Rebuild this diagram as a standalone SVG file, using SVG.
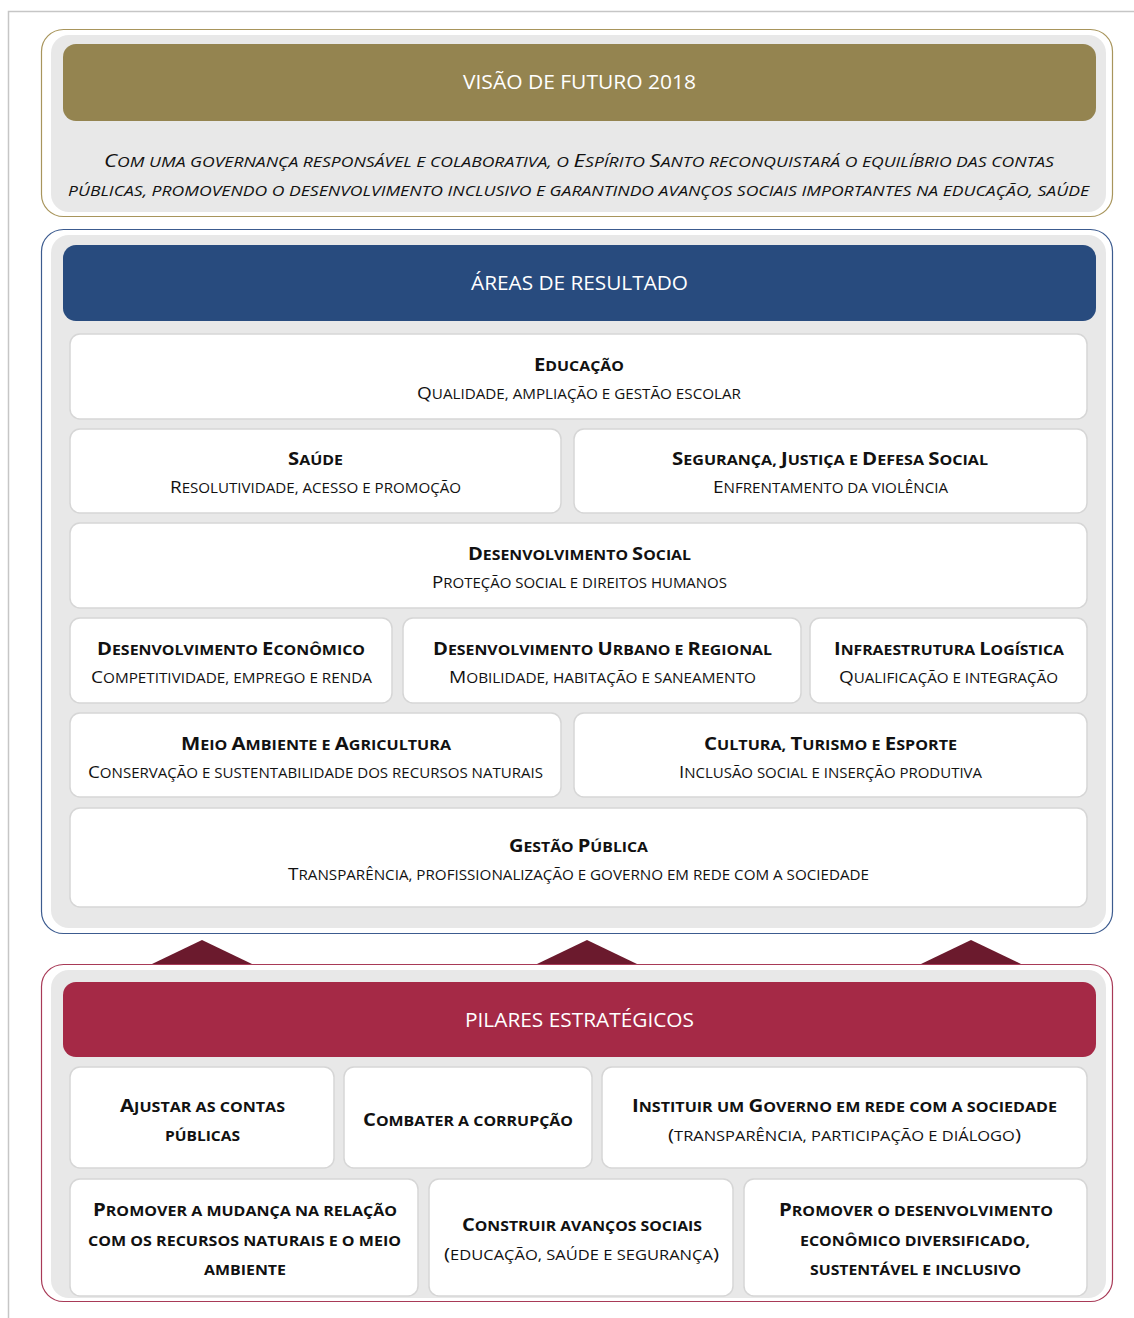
<svg xmlns="http://www.w3.org/2000/svg" width="1134" height="1318" viewBox="0 0 1134 1318">
<style>
.frame{fill:none;stroke:#c6c6c6;stroke-width:1.5}
.panel{fill:#e8e8e8}
.card{fill:#fff;stroke:#d6d6d6;stroke-width:1.5}
.hd{font-family:"Open Sans","Noto Sans",sans-serif;font-size:20px;fill:#fff;text-anchor:middle}
.t{font-family:"Open Sans","Noto Sans",sans-serif;text-transform:uppercase;font-weight:700;font-size:14.2px;fill:#111;text-anchor:middle}
.t .C{font-size:18px}
.s{font-family:"Open Sans","Noto Sans",sans-serif;text-transform:uppercase;font-weight:400;font-size:13.6px;fill:#111;text-anchor:middle}
.s .C{font-size:17px}
.it{font-family:"Open Sans","Noto Sans",sans-serif;text-transform:uppercase;font-style:italic;font-size:15px;fill:#111;text-anchor:middle}
.it .C{font-size:19px}
.tri{fill:#6b1a2d}
</style>
<path class="frame" d="M8.5,1318 V11.5 H1134"/>

<g id="visao">
<rect x="41.5" y="29.5" width="1071" height="187" rx="22" fill="#fff" stroke="#a8955c" stroke-width="1.2"/>
<rect class="panel" x="51" y="35" width="1055" height="177" rx="18"/>
<rect x="63" y="44" width="1033" height="77" rx="13" fill="#948450"/>
<text class="hd" x="579.5" y="89" textLength="233" lengthAdjust="spacingAndGlyphs">VISÃO DE FUTURO 2018</text>
<text class="it" x="579" y="167" textLength="950" lengthAdjust="spacingAndGlyphs"><tspan class="C">C</tspan>om uma governança responsável e colaborativa, o <tspan class="C">E</tspan>spírito <tspan class="C">S</tspan>anto reconquistará o equilíbrio das contas</text>
<text class="it" x="578.5" y="196" textLength="1021" lengthAdjust="spacingAndGlyphs">públicas, promovendo o desenvolvimento inclusivo e garantindo avanços sociais importantes na educação, saúde</text>
</g>

<g id="areas">
<rect x="41.5" y="229.5" width="1071" height="704" rx="22" fill="#fff" stroke="#3c5b8f" stroke-width="1.2"/>
<rect class="panel" x="51" y="235" width="1055" height="693" rx="18"/>
<rect x="63" y="245" width="1033" height="76" rx="13" fill="#284b7e"/>
<text class="hd" x="579.5" y="290" textLength="217" lengthAdjust="spacingAndGlyphs">ÁREAS DE RESULTADO</text>
</g>

<g id="educacao">
<rect class="card" x="70" y="334" width="1017" height="85" rx="10"/>
<text class="t" x="579" y="371" textLength="90" lengthAdjust="spacingAndGlyphs"><tspan class="C">E</tspan>ducação</text>
<text class="s" x="579" y="399" textLength="324" lengthAdjust="spacingAndGlyphs"><tspan class="C">Q</tspan>ualidade, ampliação e gestão escolar</text>
</g>
<g id="saude">
<rect class="card" x="70" y="429" width="491" height="84" rx="10"/>
<text class="t" x="315.5" y="465" textLength="55" lengthAdjust="spacingAndGlyphs"><tspan class="C">S</tspan>aúde</text>
<text class="s" x="315.5" y="493" textLength="291" lengthAdjust="spacingAndGlyphs"><tspan class="C">R</tspan>esolutividade, acesso e promoção</text>
</g>
<g id="seguranca">
<rect class="card" x="574" y="429" width="513" height="84" rx="10"/>
<text class="t" x="830" y="465" textLength="316" lengthAdjust="spacingAndGlyphs"><tspan class="C">S</tspan>egurança, <tspan class="C">J</tspan>ustiça e <tspan class="C">D</tspan>efesa <tspan class="C">S</tspan>ocial</text>
<text class="s" x="830.5" y="493" textLength="235" lengthAdjust="spacingAndGlyphs"><tspan class="C">E</tspan>nfrentamento da violência</text>
</g>
<g id="desenvolvimento-social">
<rect class="card" x="70" y="523" width="1017" height="85" rx="10"/>
<text class="t" x="579.5" y="560" textLength="223" lengthAdjust="spacingAndGlyphs"><tspan class="C">D</tspan>esenvolvimento <tspan class="C">S</tspan>ocial</text>
<text class="s" x="579.5" y="588" textLength="295" lengthAdjust="spacingAndGlyphs"><tspan class="C">P</tspan>roteção social e direitos humanos</text>
</g>
<g id="desenvolvimento-economico">
<rect class="card" x="70" y="618" width="322" height="85" rx="10"/>
<text class="t" x="231" y="655" textLength="268" lengthAdjust="spacingAndGlyphs"><tspan class="C">D</tspan>esenvolvimento <tspan class="C">E</tspan>conômico</text>
<text class="s" x="231.5" y="683" textLength="281" lengthAdjust="spacingAndGlyphs"><tspan class="C">C</tspan>ompetitividade, emprego e renda</text>
</g>
<g id="desenvolvimento-urbano">
<rect class="card" x="403" y="618" width="398" height="85" rx="10"/>
<text class="t" x="602.5" y="655" textLength="339" lengthAdjust="spacingAndGlyphs"><tspan class="C">D</tspan>esenvolvimento <tspan class="C">U</tspan>rbano e <tspan class="C">R</tspan>egional</text>
<text class="s" x="602.5" y="683" textLength="307" lengthAdjust="spacingAndGlyphs"><tspan class="C">M</tspan>obilidade, habitação e saneamento</text>
</g>
<g id="infraestrutura">
<rect class="card" x="810" y="618" width="277" height="85" rx="10"/>
<text class="t" x="949" y="655" textLength="230" lengthAdjust="spacingAndGlyphs"><tspan class="C">I</tspan>nfraestrutura <tspan class="C">L</tspan>ogística</text>
<text class="s" x="948.5" y="683" textLength="219" lengthAdjust="spacingAndGlyphs"><tspan class="C">Q</tspan>ualificação e integração</text>
</g>
<g id="meio-ambiente">
<rect class="card" x="70" y="713" width="491" height="84" rx="10"/>
<text class="t" x="316" y="750" textLength="270" lengthAdjust="spacingAndGlyphs"><tspan class="C">M</tspan>eio <tspan class="C">A</tspan>mbiente e <tspan class="C">A</tspan>gricultura</text>
<text class="s" x="315.5" y="778" textLength="455" lengthAdjust="spacingAndGlyphs"><tspan class="C">C</tspan>onservação e sustentabilidade dos recursos naturais</text>
</g>
<g id="cultura">
<rect class="card" x="574" y="713" width="513" height="84" rx="10"/>
<text class="t" x="830.5" y="750" textLength="253" lengthAdjust="spacingAndGlyphs"><tspan class="C">C</tspan>ultura, <tspan class="C">T</tspan>urismo e <tspan class="C">E</tspan>sporte</text>
<text class="s" x="830.5" y="778" textLength="303" lengthAdjust="spacingAndGlyphs"><tspan class="C">I</tspan>nclusão social e inserção produtiva</text>
</g>
<g id="gestao-publica">
<rect class="card" x="70" y="808" width="1017" height="99" rx="10"/>
<text class="t" x="578.5" y="852" textLength="139" lengthAdjust="spacingAndGlyphs"><tspan class="C">G</tspan>estão <tspan class="C">P</tspan>ública</text>
<text class="s" x="578.5" y="880" textLength="581" lengthAdjust="spacingAndGlyphs"><tspan class="C">T</tspan>ransparência, profissionalização e governo em rede com a sociedade</text>
</g>

<g id="connectors">
<polygon class="tri" points="152,964 202,940 252,964"/>
<polygon class="tri" points="537,964 587,940 637,964"/>
<polygon class="tri" points="921,964 971,940 1021,964"/>
</g>

<g id="pilares">
<rect x="41.5" y="964.5" width="1071" height="337" rx="22" fill="#fff" stroke="#a83a57" stroke-width="1.2"/>
<rect class="panel" x="51" y="970" width="1055" height="328" rx="18"/>
<rect x="63" y="982" width="1033" height="75" rx="13" fill="#a52946"/>
<text class="hd" x="579.5" y="1027" textLength="229" lengthAdjust="spacingAndGlyphs">PILARES ESTRATÉGICOS</text>
</g>

<g id="ajustar">
<rect class="card" x="70" y="1067" width="264" height="101" rx="10"/>
<text class="t" x="202.5" y="1112" textLength="165" lengthAdjust="spacingAndGlyphs"><tspan class="C">A</tspan>justar as contas</text>
<text class="t" x="202.5" y="1141" textLength="75" lengthAdjust="spacingAndGlyphs">públicas</text>
</g>
<g id="combater">
<rect class="card" x="344" y="1067" width="248" height="101" rx="10"/>
<text class="t" x="468" y="1126" textLength="210" lengthAdjust="spacingAndGlyphs"><tspan class="C">C</tspan>ombater a corrupção</text>
</g>
<g id="instituir">
<rect class="card" x="602" y="1067" width="485" height="101" rx="10"/>
<text class="t" x="844.5" y="1112" textLength="425" lengthAdjust="spacingAndGlyphs"><tspan class="C">I</tspan>nstituir um <tspan class="C">G</tspan>overno em rede com a sociedade</text>
<text class="s" x="844.5" y="1141" textLength="353" lengthAdjust="spacingAndGlyphs"><tspan class="C">(</tspan>transparência, participação e diálogo<tspan class="C">)</tspan></text>
</g>
<g id="promover-mudanca">
<rect class="card" x="70" y="1179" width="348" height="117" rx="10"/>
<text class="t" x="245" y="1216" textLength="304" lengthAdjust="spacingAndGlyphs"><tspan class="C">P</tspan>romover a mudança na relação</text>
<text class="t" x="244.5" y="1246" textLength="313" lengthAdjust="spacingAndGlyphs">com os recursos naturais e o meio</text>
<text class="t" x="245" y="1275" textLength="82" lengthAdjust="spacingAndGlyphs">ambiente</text>
</g>
<g id="construir">
<rect class="card" x="429" y="1179" width="304" height="117" rx="10"/>
<text class="t" x="582" y="1231" textLength="240" lengthAdjust="spacingAndGlyphs"><tspan class="C">C</tspan>onstruir avanços sociais</text>
<text class="s" x="581.5" y="1260" textLength="275" lengthAdjust="spacingAndGlyphs"><tspan class="C">(</tspan>educação, saúde e segurança<tspan class="C">)</tspan></text>
</g>
<g id="promover-desenvolvimento">
<rect class="card" x="744" y="1179" width="343" height="117" rx="10"/>
<text class="t" x="916" y="1216" textLength="274" lengthAdjust="spacingAndGlyphs"><tspan class="C">P</tspan>romover o desenvolvimento</text>
<text class="t" x="915" y="1246" textLength="230" lengthAdjust="spacingAndGlyphs">econômico diversificado,</text>
<text class="t" x="915.5" y="1275" textLength="211" lengthAdjust="spacingAndGlyphs">sustentável e inclusivo</text>
</g>
</svg>
